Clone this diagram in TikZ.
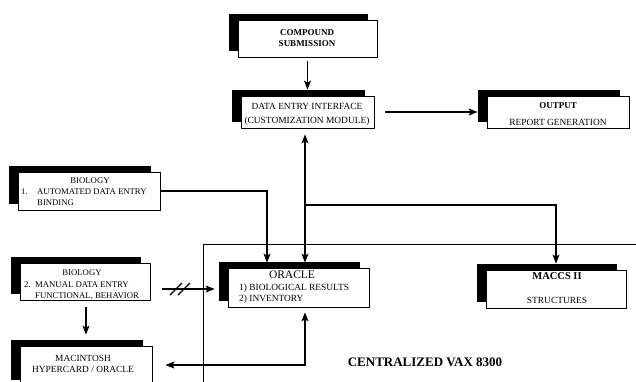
\documentclass[tikz,border=0pt]{standalone}
\usepackage{fontspec}
\setmainfont{Liberation Serif}
\usetikzlibrary{shadows,arrows.meta,calc}
\begin{document}
\begin{tikzpicture}[x=1pt,y=-1pt,
  box/.style={draw=black, line width=0.8pt, fill=white, inner sep=0pt, rectangle,
    general shadow={fill=black, shadow xshift=-9pt, shadow yshift=6pt}},
  txt/.style={inner sep=0pt, font=\fontsize{9.4}{11}\selectfont},
  sml/.style={inner sep=0pt, font=\fontsize{8.7}{10}\selectfont},
  bold/.style={inner sep=0pt, font=\fontsize{9}{11}\bfseries},
  ttl/.style={inner sep=0pt, font=\fontsize{11.5}{13}\selectfont},
  conn/.style={line width=1.1pt, -{Stealth[length=9pt,width=7pt,inset=2pt]}},
  conn2/.style={line width=1.1pt, {Stealth[length=9pt,width=7pt,inset=2pt]}-{Stealth[length=9pt,width=7pt,inset=2pt]}},
  frame/.style={line width=0.7pt}]
\useasboundingbox (0,0) rectangle (636,381);
% boxes
\node[box, minimum width=139pt, minimum height=37pt] (compound) at (307.5,38.5) {};
\node[box, minimum width=133pt, minimum height=32pt] (dei) at (307.5,112) {};
\node[box, minimum width=142pt, minimum height=32pt] (output) at (558,112) {};
\node[box, minimum width=142pt, minimum height=38pt] (bio1) at (89,191) {};
\node[box, minimum width=130pt, minimum height=37pt] (bio2) at (85,281.5) {};
\node[box, minimum width=141pt, minimum height=39pt] (oracle) at (298.5,287.5) {};
\node[box, minimum width=140pt, minimum height=38pt] (maccs) at (556,289) {};
\node[box, minimum width=132pt, minimum height=40pt] (mac) at (86,366) {};
% texts
\node[bold] (t1) at (307,33) {COMPOUND};
\node[bold] (t2) at (307,44) {SUBMISSION};
\node[txt] (t3) at (307,106) {DATA ENTRY INTERFACE};
\node[txt] (t4) at (307,121) {(CUSTOMIZATION MODULE)};
\node[bold] (t5) at (558,106) {OUTPUT};
\node[txt] (t6) at (558,122) {REPORT GENERATION};
\node[sml] (t7) at (90,181) {BIOLOGY};
\node[sml, anchor=west] (t8) at (21,192) {1.};
\node[sml, anchor=west] (t9) at (37,192) {AUTOMATED DATA ENTRY};
\node[sml, anchor=west] (t10) at (37,203) {BINDING};
\node[sml] (t11) at (82,273) {BIOLOGY};
\node[sml, anchor=west] (t12) at (24,285) {2.};
\node[sml, anchor=west] (t13) at (35,285) {MANUAL DATA ENTRY};
\node[sml, anchor=west] (t14) at (35,296) {FUNCTIONAL, BEHAVIOR};
\node[ttl] (t15) at (292,275) {ORACLE};
\node[txt, anchor=west] (t16) at (239,288) {1) BIOLOGICAL RESULTS};
\node[txt, anchor=west] (t17) at (239,299) {2) INVENTORY};
\node[inner sep=0pt, font=\fontsize{10.5}{12}\bfseries] (t18) at (557,276) {MACCS II};
\node[txt] (t19) at (557,300) {STRUCTURES};
\node[txt] (t20) at (83,358) {MACINTOSH};
\node[txt] (t21) at (83,369) {HYPERCARD / ORACLE};
\node[inner sep=0pt, font=\fontsize{13}{15}\bfseries] (t22) at (425,362) {CENTRALIZED VAX 8300};
% centralized frame
\draw[frame] (636,244) -| (203,390);
% helper coordinates
\coordinate (x267) at (267,0);
\coordinate (x305) at (305,0);
\coordinate (x86) at (86,0);
\coordinate (y289) at (0,289);
\coordinate (y365) at (0,365);
\coordinate (j) at (305,205);
\coordinate (brk) at (182,289);
% connectors
\draw[conn, shorten <=4pt, shorten >=6pt] (compound) -- (dei);
\draw[conn, shorten <=11pt, shorten >=9pt] (dei) -- (output);
\draw[conn, shorten >=5pt] (bio1.east) -| (x267 |- oracle.north);
\draw[conn2, shorten <=6pt, shorten >=5pt] (x305 |- dei.south) -- (x305 |- oracle.north);
\draw[conn, shorten >=6pt] (j) -| (maccs.north);
\draw[conn2, shorten <=5pt, shorten >=13pt] (x305 |- oracle.south) |- (mac.east |- y365);
\draw[conn, shorten <=12pt, shorten >=13pt] (bio2.east |- y289) -- (oracle.west |- y289);
\draw[conn, shorten <=7pt, shorten >=11pt] (x86 |- bio2.south) -- (x86 |- mac.north);
% break marks
\draw[line width=1.1pt] ($(brk)+(-12,6)$) -- ($(brk)+(0,-6)$);
\draw[line width=1.1pt] ($(brk)+(-4,6)$) -- ($(brk)+(8,-6)$);
\end{tikzpicture}
\end{document}
